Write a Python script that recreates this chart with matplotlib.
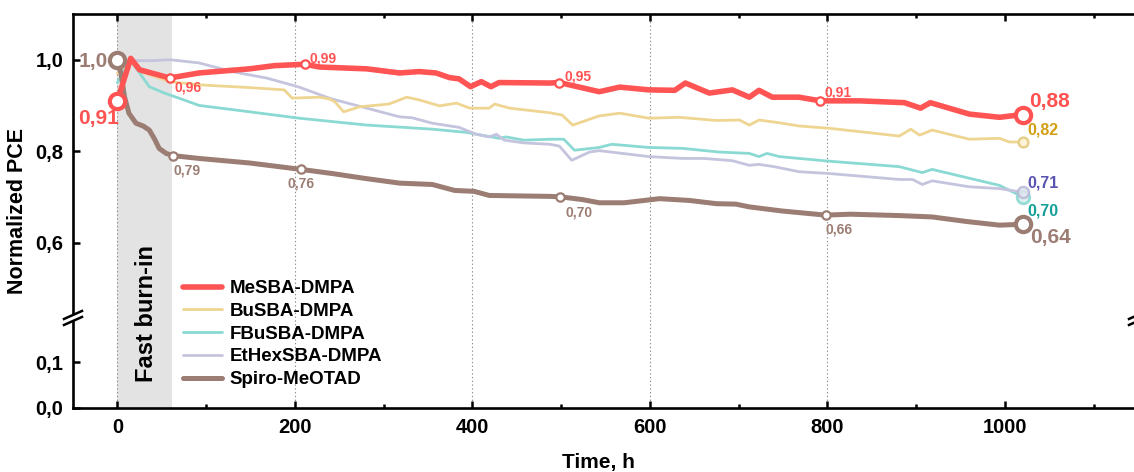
import numpy as np
import matplotlib
matplotlib.use("Agg")
import matplotlib.pyplot as plt
from matplotlib.lines import Line2D
from matplotlib.patches import Polygon
from matplotlib.ticker import FuncFormatter, MultipleLocator, NullLocator

plt.rcParams['font.family'] = ['Liberation Sans', 'DejaVu Sans']

# ---------------- data (time in h, normalized PCE) ----------------
me_t = [0, 15, 25, 59, 92, 149, 177, 211, 228, 281, 318, 340, 359, 374, 385, 398, 410,
        421, 430, 487, 498, 543, 566, 599, 628, 640, 667, 693, 712, 723, 738, 768, 792,
        836, 887, 905, 916, 960, 994, 1020]
me_pce = [0.91, 1.003, 0.978, 0.96, 0.971, 0.980, 0.987, 0.99, 0.984, 0.980, 0.971, 0.974,
          0.971, 0.961, 0.958, 0.941, 0.952, 0.941, 0.950, 0.949, 0.95, 0.930, 0.940, 0.934,
          0.933, 0.949, 0.927, 0.934, 0.918, 0.933, 0.918, 0.918, 0.91, 0.910, 0.906, 0.894,
          0.906, 0.881, 0.874, 0.88]

bu_t = [0, 14, 25, 59, 92, 149, 188, 197, 228, 239, 245, 255, 273, 306, 326, 340, 363, 382,
        397, 419, 425, 442, 487, 501, 513, 543, 566, 599, 633, 675, 701, 712, 723, 746, 768,
        802, 881, 894, 904, 918, 960, 994, 1005, 1020]
bu_pce = [0.97, 1.0, 0.975, 0.952, 0.945, 0.939, 0.934, 0.916, 0.918, 0.914, 0.908, 0.886,
          0.897, 0.903, 0.918, 0.912, 0.899, 0.905, 0.894, 0.894, 0.903, 0.894, 0.884, 0.879,
          0.857, 0.877, 0.883, 0.872, 0.874, 0.867, 0.868, 0.857, 0.868, 0.862, 0.855, 0.850,
          0.833, 0.848, 0.835, 0.846, 0.826, 0.828, 0.820, 0.82]

fbu_t = [0, 14, 25, 36, 53, 75, 92, 149, 205, 281, 355, 393, 422, 430, 438, 458, 487, 503,
         515, 543, 557, 599, 637, 678, 712, 723, 732, 746, 768, 802, 881, 907, 918, 994, 1020]
fbu_pce = [0.95, 1.0, 0.971, 0.941, 0.927, 0.912, 0.900, 0.886, 0.872, 0.857, 0.848, 0.841,
           0.831, 0.828, 0.831, 0.824, 0.826, 0.826, 0.802, 0.808, 0.815, 0.808, 0.806, 0.798,
           0.795, 0.788, 0.795, 0.788, 0.784, 0.778, 0.766, 0.753, 0.760, 0.725, 0.70]

ethex_t = [0, 14, 40, 59, 92, 129, 168, 205, 240, 281, 318, 332, 355, 385, 404, 419, 427,
           436, 458, 487, 498, 512, 532, 543, 599, 637, 661, 693, 712, 723, 740, 768, 802,
           881, 896, 907, 918, 960, 994, 1020]
ethex_pce = [0.99, 0.998, 0.998, 1.0, 0.993, 0.974, 0.960, 0.940, 0.915, 0.894, 0.875, 0.873,
             0.861, 0.852, 0.837, 0.831, 0.837, 0.824, 0.818, 0.815, 0.811, 0.780, 0.798,
             0.801, 0.788, 0.784, 0.784, 0.779, 0.769, 0.771, 0.766, 0.755, 0.751, 0.738,
             0.738, 0.727, 0.735, 0.722, 0.718, 0.71]

spiro_t = [0, 4, 8, 13, 21, 29, 36, 42, 47, 55, 63, 92, 149, 207, 242, 280, 318, 355, 380,
           402, 419, 487, 499, 524, 543, 571, 611, 645, 675, 697, 712, 749, 798, 826, 881,
           918, 957, 994, 1020]
spiro_pce = [1.00, 0.971, 0.919, 0.883, 0.861, 0.855, 0.846, 0.826, 0.806, 0.795, 0.79,
             0.784, 0.774, 0.76, 0.751, 0.740, 0.730, 0.727, 0.714, 0.712, 0.703, 0.701, 0.70,
             0.694, 0.687, 0.687, 0.696, 0.692, 0.685, 0.684, 0.678, 0.669, 0.66, 0.662,
             0.659, 0.656, 0.646, 0.638, 0.64]

labels = ["MeSBA-DMPA", "BuSBA-DMPA", "FBuSBA-DMPA", "EtHexSBA-DMPA", "Spiro-MeOTAD"]
colors = ["#ff5454", "#efd592", "#8bd9d3", "#c5c4de", "#9b7d73"]

burn_in_end = 62
grid_x = [0, 200, 400, 600, 800]
x_ticks = [0, 200, 400, 600, 800, 1000]
y_ticks = [0.0, 0.1, 0.6, 0.8, 1.0]

# ---------------- broken y scale ----------------
BREAK_LO, BREAK_HI = 0.197, 0.435
GAP = BREAK_HI - BREAK_LO


def fwd(y):
    y = np.asarray(y, float)
    return np.where(y <= BREAK_LO, y, np.where(y >= BREAK_HI, y - GAP, BREAK_LO))


def inv(u):
    u = np.asarray(u, float)
    return np.where(u <= BREAK_LO, u, u + GAP)


W, H = 1134, 472
fig = plt.figure(figsize=(W / 100, H / 100), dpi=100)
ax_l, ax_b, ax_w, ax_h = 73, 64, 1065, 394
ax = fig.add_axes([ax_l / W, ax_b / H, ax_w / W, ax_h / H])
ax.set_yscale('function', functions=(fwd, inv))
ax.set_xlim(-50, 1150)
ax.set_ylim(0, 1.1)

# burn-in band and grid
ax.axvspan(0, burn_in_end, color="#e3e3e3", lw=0, zorder=0)
for gx in grid_x:
    ax.axvline(gx, color="#8c8c8c", lw=0.8, ls=(0, (1.2, 2.2)), zorder=1)

ax.text(33, 0.24, "Fast burn-in", transform=ax.get_xaxis_transform(), rotation=90,
        ha="center", va="center", fontsize=17, fontweight="bold", zorder=2)

# curves
series = [(me_t, me_pce, 4.0, 6), (bu_t, bu_pce, 2.0, 4), (fbu_t, fbu_pce, 2.0, 3),
          (ethex_t, ethex_pce, 2.0, 3.5), (spiro_t, spiro_pce, 3.6, 5)]
for (t, p, lw, z), lab, c in zip(series, labels, colors):
    ax.plot(t, p, color=c, lw=lw, label=lab, zorder=z, solid_joinstyle="round",
            solid_capstyle="round")

RED, BROWN = "#ff5252", "#9b7d73"


def fmt(v, nd=2):
    return f"{v:.{nd}f}".replace(".", ",")


def mark(x, y, color, size, mew, face="white", z=7, alpha=1.0):
    ax.plot([x], [y], "o", ms=size, mfc=face, mec=color, mew=mew, zorder=z, alpha=alpha)


def label(x, y, text, color, dx, dy, fs, ha="left"):
    ax.annotate(text, (x, y), xytext=(dx, dy), textcoords="offset points", ha=ha,
                va="center", color=color, fontsize=fs, fontweight="bold", zorder=9)


# MeSBA-DMPA annotated points
me_marks = [(59, 0.96, (3.6, -7)), (211, 0.99, (3.6, 4.5)), (498, 0.95, (3.6, 4.5)),
            (792, 0.91, (3.0, 6))]
for x, y, (dx, dy) in me_marks:
    mark(x, y, RED, 6, 1.6)
    label(x, y, fmt(y), RED, dx, dy, 10)
mark(0, me_pce[0], RED, 11, 3.0)
label(0, me_pce[0], fmt(me_pce[0]), RED, 1.5, -13, 15, ha="right")
mark(1020, me_pce[-1], RED, 11, 3.0)
label(1020, me_pce[-1], fmt(me_pce[-1]), RED, 5, 9.5, 15)

# Spiro-MeOTAD annotated points
spiro_marks = [(63, 0.79, (0, -11), "left"), (207, 0.76, (0, -10.5), "center"),
               (499, 0.70, (4, -11), "left"), (798, 0.66, (0, -10.5), "left")]
for x, y, (dx, dy), ha in spiro_marks:
    mark(x, y, BROWN, 6, 1.6)
    label(x, y, fmt(y), BROWN, dx, dy, 10, ha=ha)
mark(0, spiro_pce[0], BROWN, 11, 3.0)
label(0, spiro_pce[0], fmt(spiro_pce[0], 1), BROWN, -6.5, -1, 15, ha="right")
mark(1020, spiro_pce[-1], BROWN, 11, 3.0)
label(1020, spiro_pce[-1], fmt(spiro_pce[-1]), BROWN, 5.5, -9.5, 15)

# end points of the other curves
mark(1020, bu_pce[-1], "#e6cf8a", 7, 1.8, face="#fbf3d8")
label(1020, bu_pce[-1], fmt(bu_pce[-1]), "#d3a015", 3.6, 8.6, 11.5)
mark(1020, fbu_pce[-1], "#8bd9d3", 9, 2.0, face="#d9f1ef", alpha=0.9)
label(1020, fbu_pce[-1], fmt(fbu_pce[-1]), "#16a09a", 3.6, -10, 11.5)
mark(1020, ethex_pce[-1], "#b7b6d6", 8, 1.8, face="#e4e4f0", alpha=0.8)
label(1020, ethex_pce[-1], fmt(ethex_pce[-1]), "#5a55b3", 3.6, 6.5, 11.5)

# axes styling
for s in ax.spines.values():
    s.set_linewidth(1.9)
ax.set_xticks(x_ticks)
ax.xaxis.set_minor_locator(MultipleLocator(100))
ax.set_yticks(y_ticks)
ax.yaxis.set_minor_locator(NullLocator())
ax.yaxis.set_major_formatter(FuncFormatter(lambda v, _: fmt(v, 1)))
ax.tick_params(which="both", direction="in", top=True, right=False, width=1.8)
ax.tick_params(which="major", length=5, labelsize=14.5, pad=7)
ax.tick_params(which="minor", length=3)
for lbl in ax.get_xticklabels() + ax.get_yticklabels():
    lbl.set_fontweight("bold")

ax.set_xlabel("Time, h", fontsize=15, fontweight="bold")
ax.xaxis.set_label_coords((598 - ax_l) / ax_w, -0.115)
ax.set_ylabel("Normalized PCE", fontsize=15.5, fontweight="bold")
ax.yaxis.set_label_coords(-0.042, 0.5)

# break symbols on the y axis
yb = float(fwd(BREAK_LO)) / float(fwd(1.1))
px_x, px_y = 1.0 / ax_w, 1.0 / ax_h
for xs in (0.0, 1.0):
    gap_poly = Polygon([(xs - 9 * px_x, yb - 7 * px_y), (xs + 9 * px_x, yb + 1 * px_y),
                        (xs + 9 * px_x, yb + 7 * px_y), (xs - 9 * px_x, yb - 1 * px_y)],
                       closed=True, transform=ax.transAxes, fc="white", ec="none",
                       clip_on=False, zorder=10)
    ax.add_patch(gap_poly)
    for off in (-3, 3):
        ax.add_line(Line2D([xs - 9 * px_x, xs + 9 * px_x],
                           [yb + (off - 4) * px_y, yb + (off + 4) * px_y],
                           transform=ax.transAxes, color="black", lw=1.8,
                           clip_on=False, zorder=11))

leg = ax.legend(loc="upper left", bbox_to_anchor=((183 - ax_l) / ax_w, (408 - 280) / ax_h),
                frameon=False, borderpad=0, borderaxespad=0, handlelength=2.1,
                handletextpad=0.4, labelspacing=0.3,
                prop={"weight": "bold", "size": 13.5})
leg.set_zorder(12)

fig.savefig("out.png", dpi=100, facecolor="white")
